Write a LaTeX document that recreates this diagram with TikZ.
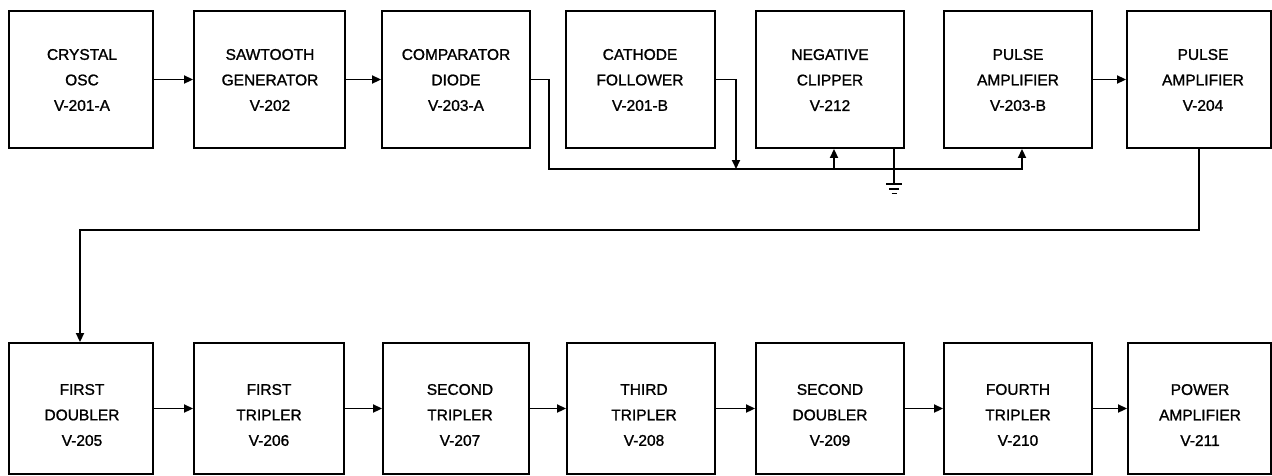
\documentclass[tikz,border=0pt]{standalone}
\usepackage{fontspec}
\setmainfont{Liberation Sans}[BoldFeatures={FakeBold=1.2},BoldFont={Liberation Sans}]
\usetikzlibrary{arrows.meta}
\begin{document}
\begin{tikzpicture}[x=1pt,y=-1pt,
  blk/.style={draw,line width=1.9pt,inner sep=0pt,minimum height=#1},
  lbl/.style={align=center,font=\fontsize{15.5}{25.5}\selectfont\bfseries,inner sep=0pt},
  wire/.style={line width=1.9pt},
  arr/.style={wire,-{Triangle[length=9pt,width=8pt]}},
  gnd/.style={line width=1.6pt}]
\useasboundingbox (0,0) rectangle (1272,475);
% top row
\node[blk=137pt,minimum width=144pt] (a1) at (81,79.5) {};
\node[blk=137pt,minimum width=151pt] (a2) at (269.5,79.5) {};
\node[blk=137pt,minimum width=148pt] (a3) at (456,79.5) {};
\node[blk=137pt,minimum width=149pt] (a4) at (640.5,79.5) {};
\node[blk=137pt,minimum width=148pt] (a5) at (830,79.5) {};
\node[blk=137pt,minimum width=148pt] (a6) at (1018,79.5) {};
\node[blk=137pt,minimum width=144pt] (a7) at (1199,79.5) {};
\node[lbl] (ta1) at (82,80) {CRYSTAL\\OSC\\V-201-A};
\node[lbl] (ta2) at (270,80) {SAWTOOTH\\GENERATOR\\V-202};
\node[lbl] (ta3) at (456,80) {COMPARATOR\\DIODE\\V-203-A};
\node[lbl] (ta4) at (640,80) {CATHODE\\FOLLOWER\\V-201-B};
\node[lbl] (ta5) at (830,80) {NEGATIVE\\CLIPPER\\V-212};
\node[lbl] (ta6) at (1018,80) {PULSE\\AMPLIFIER\\V-203-B};
\node[lbl] (ta7) at (1203,80) {PULSE\\AMPLIFIER\\V-204};
% bottom row
\node[blk=131pt,minimum width=144pt] (b1) at (81,408.5) {};
\node[blk=131pt,minimum width=150pt] (b2) at (269,408.5) {};
\node[blk=131pt,minimum width=146pt] (b3) at (456,408.5) {};
\node[blk=131pt,minimum width=148pt] (b4) at (641,408.5) {};
\node[blk=131pt,minimum width=148pt] (b5) at (830,408.5) {};
\node[blk=131pt,minimum width=148pt] (b6) at (1018,408.5) {};
\node[blk=131pt,minimum width=143pt] (b7) at (1199.5,408.5) {};
\node[lbl] (tb1) at (82,415) {FIRST\\DOUBLER\\V-205};
\node[lbl] (tb2) at (269,415) {FIRST\\TRIPLER\\V-206};
\node[lbl] (tb3) at (460,415) {SECOND\\TRIPLER\\V-207};
\node[lbl] (tb4) at (644,415) {THIRD\\TRIPLER\\V-208};
\node[lbl] (tb5) at (830,415) {SECOND\\DOUBLER\\V-209};
\node[lbl] (tb6) at (1018,415) {FOURTH\\TRIPLER\\V-210};
\node[lbl] (tb7) at (1200,415) {POWER\\AMPLIFIER\\V-211};
% coordinates
\coordinate (j1) at (549,169);
\coordinate (j2) at (1022,169);
\coordinate (j3) at (736,169);
\coordinate (j4) at (834,169);
\coordinate (g) at (894,184);
\coordinate (j5) at (80,230);
% top connectors
\draw[arr] (a1.east) -- (a2.west);
\draw[arr] (a2.east) -- (a3.west);
\draw[arr] (a6.east) -- (a7.west);
\draw[arr] (a3.east) -| (j1) -- (j2) -- (a6.south -| j2);
\draw[arr] (a4.east) -| (j3);
\draw[arr] (j4) -- (a5.south -| j4);
\draw[wire] (a5.south -| g) -- (g);
\draw[gnd] ([xshift=-8pt]g) -- ([xshift=8pt]g);
\draw[gnd] ([xshift=-5pt,yshift=-5pt]g) -- ([xshift=5pt,yshift=-5pt]g);
\draw[gnd] ([xshift=-2.5pt,yshift=-9.5pt]g) -- ([xshift=2.5pt,yshift=-9.5pt]g);
% feedback to bottom row
\draw[arr] (a7.south) |- (j5) -- (j5 |- b1.north);
% bottom connectors
\draw[arr] (b1.east) -- (b2.west);
\draw[arr] (b2.east) -- (b3.west);
\draw[arr] (b3.east) -- (b4.west);
\draw[arr] (b4.east) -- (b5.west);
\draw[arr] (b5.east) -- (b6.west);
\draw[arr] (b6.east) -- (b7.west);
\end{tikzpicture}
\end{document}
